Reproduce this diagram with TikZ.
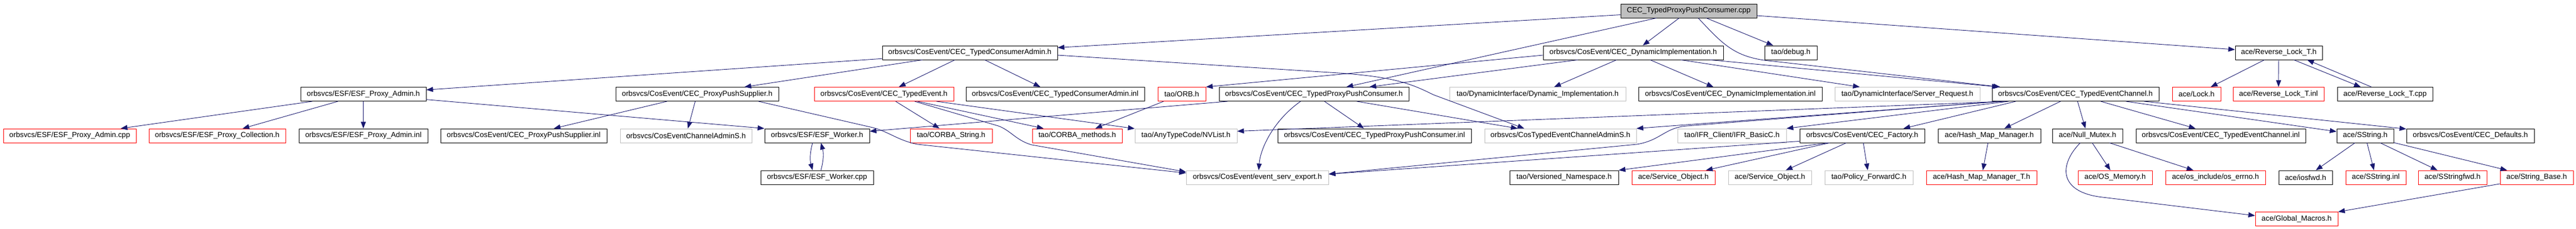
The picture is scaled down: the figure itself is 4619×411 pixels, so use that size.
\documentclass[tikz,border=0pt]{standalone}
\usepackage{fontspec}
\setmainfont{Liberation Sans}
\usepackage{tikz}
\usetikzlibrary{arrows.meta}
\usetikzlibrary{positioning}
\definecolor{doxblue}{HTML}{191970}
\definecolor{doxred}{HTML}{FF0000}
\definecolor{doxgray}{HTML}{BFBFBF}
\tikzstyle{header} = [draw, rectangle, line width=0.9pt, inner sep=0pt,
minimum height=25pt, font=\fontsize{13.3}{15}\selectfont]
\tikzstyle{line} = [draw, doxblue, line width=0.9pt, -{Triangle[length=12pt,width=9pt]}]

\begin{document}
\begin{tikzpicture}[x=1pt, y=1pt,
	undoc/.style={header, draw=doxred},
	extern/.style={header, draw=doxgray},
	mainfile/.style={header, fill=doxgray}]
    \useasboundingbox (0,0) rectangle (4619,-411);
    \node [mainfile, minimum width=244pt] (root) at (3028,-19.5) {CEC\_TypedProxyPushConsumer.cpp};
    %% Row 1
    \node [header, minimum width=314pt] (tca) at (1739,-94.5) {orbsvcs/CosEvent/CEC\_TypedConsumerAdmin.h};
    \node [header, minimum width=323pt] (dih) at (2928.5,-94.5) {orbsvcs/CosEvent/CEC\_DynamicImplementation.h};
    \node [header, minimum width=94pt] (debug) at (3211,-94.5) {tao/debug.h};
    \node [header, minimum width=156pt] (rlth) at (4086,-94.5) {ace/Reverse\_Lock\_T.h};
    %% Row 2
    \node [header, minimum width=225pt] (epah) at (651.5,-169) {orbsvcs/ESF/ESF\_Proxy\_Admin.h};
    \node [header, minimum width=292pt] (ppsh) at (1250,-169) {orbsvcs/CosEvent/CEC\_ProxyPushSupplier.h};
    \node [undoc, minimum width=250pt] (teh) at (1585,-169) {orbsvcs/CosEvent/CEC\_TypedEvent.h};
    \node [header, minimum width=320pt] (tcainl) at (1892,-169) {orbsvcs/CosEvent/CEC\_TypedConsumerAdmin.inl};
    \node [undoc, minimum width=86pt] (orbh) at (2119,-169) {tao/ORB.h};
    \node [header, minimum width=340pt] (tppch) at (2356,-169) {orbsvcs/CosEvent/CEC\_TypedProxyPushConsumer.h};
    \node [extern, minimum width=316pt] (dynimp) at (2757,-169) {tao/DynamicInterface/Dynamic\_Implementation.h};
    \node [header, minimum width=329pt] (diinl) at (3102.5,-169) {orbsvcs/CosEvent/CEC\_DynamicImplementation.inl};
    \node [extern, minimum width=260pt] (sreq) at (3420,-169) {tao/DynamicInterface/Server\_Request.h};
    \node [header, minimum width=299pt] (tech) at (3721.5,-169) {orbsvcs/CosEvent/CEC\_TypedEventChannel.h};
    \node [undoc, minimum width=87pt] (lockh) at (3938.5,-169) {ace/Lock.h};
    \node [undoc, minimum width=163pt] (rltinl) at (4085.5,-169) {ace/Reverse\_Lock\_T.inl};
    \node [header, minimum width=171pt] (rltcpp) at (4276.5,-169) {ace/Reverse\_Lock\_T.cpp};
    %% Row 3
    \node [undoc, minimum width=238pt] (epacpp) at (125,-243.5) {orbsvcs/ESF/ESF\_Proxy\_Admin.cpp};
    \node [undoc, minimum width=245pt] (epcoll) at (389.5,-243.5) {orbsvcs/ESF/ESF\_Proxy\_Collection.h};
    \node [header, minimum width=231pt] (epainl) at (651.5,-243.5) {orbsvcs/ESF/ESF\_Proxy\_Admin.inl};
    \node [header, minimum width=298pt] (ppsinl) at (939,-243.5) {orbsvcs/CosEvent/CEC\_ProxyPushSupplier.inl};
    \node [extern, minimum width=236pt] (cecas) at (1230,-243.5) {orbsvcs/CosEventChannelAdminS.h};
    \node [header, minimum width=188pt] (workh) at (1465,-243.5) {orbsvcs/ESF/ESF\_Worker.h};
    \node [undoc, minimum width=147pt] (cstr) at (1705.5,-243.5) {tao/CORBA\_String.h};
    \node [undoc, minimum width=161pt] (cmeth) at (1931.5,-243.5) {tao/CORBA\_methods.h};
    \node [extern, minimum width=183pt] (nvl) at (2126.5,-243.5) {tao/AnyTypeCode/NVList.h};
    \node [header, minimum width=347pt] (tppcinl) at (2464.5,-243.5) {orbsvcs/CosEvent/CEC\_TypedProxyPushConsumer.inl};
    \node [extern, minimum width=272pt] (ctecas) at (2798,-243.5) {orbsvcs/CosTypedEventChannelAdminS.h};
    \node [extern, minimum width=195pt] (ifr) at (3105.5,-243.5) {tao/IFR\_Client/IFR\_BasicC.h};
    \node [header, minimum width=224pt] (facth) at (3339,-243.5) {orbsvcs/CosEvent/CEC\_Factory.h};
    \node [header, minimum width=184pt] (hmmh) at (3567,-243.5) {ace/Hash\_Map\_Manager.h};
    \node [header, minimum width=126pt] (nullm) at (3743,-243.5) {ace/Null\_Mutex.h};
    \node [header, minimum width=304pt] (techinl) at (3982,-243.5) {orbsvcs/CosEvent/CEC\_TypedEventChannel.inl};
    \node [header, minimum width=102pt] (sstrh) at (4241,-243.5) {ace/SString.h};
    \node [header, minimum width=229pt] (defh) at (4429.5,-243.5) {orbsvcs/CosEvent/CEC\_Defaults.h};
    %% Row 4
    \node [header, minimum width=202pt] (workcpp) at (1465,-318.5) {orbsvcs/ESF/ESF\_Worker.cpp};
    \node [extern, minimum width=255pt] (evexp) at (2254.5,-318.5) {orbsvcs/CosEvent/event\_serv\_export.h};
    \node [header, minimum width=195pt] (vns) at (2804.5,-318.5) {tao/Versioned\_Namespace.h};
    \node [undoc, minimum width=149pt] (svcobj) at (3000.5,-318.5) {ace/Service\_Object.h};
    \node [extern, minimum width=149pt] (svcobjb) at (3173.5,-318.5) {ace/Service\_Object.h};
    \node [extern, minimum width=158pt] (polfwd) at (3351,-318.5) {tao/Policy\_ForwardC.h};
    \node [undoc, minimum width=198pt] (hmmt) at (3553,-318.5) {ace/Hash\_Map\_Manager\_T.h};
    \node [undoc, minimum width=133pt] (osmem) at (3792.5,-318.5) {ace/OS\_Memory.h};
    \node [undoc, minimum width=179pt] (oserr) at (3972.5,-318.5) {ace/os\_include/os\_errno.h};
    \node [header, minimum width=96pt] (iosfwd) at (4134,-318.5) {ace/iosfwd.h};
    \node [undoc, minimum width=108pt] (sstrinl) at (4260,-318.5) {ace/SString.inl};
    \node [undoc, minimum width=123pt] (sstrfwd) at (4397.5,-318.5) {ace/SStringfwd.h};
    \node [undoc, minimum width=131pt] (strbase) at (4548.5,-318.5) {ace/String\_Base.h};
    %% Row 5
    \node [undoc, minimum width=148pt] (gmac) at (4118,-393) {ace/Global\_Macros.h};
	%% Arrows from the file
    \path [line] (root) -- (tca);
    \path [line] (root) -- (tppch);
    \path [line] (root) -- (dih);
    \path [line] (root) -- (debug);
    \path [line] ([xshift=17pt]root.south) .. controls (3090,-80) and (3110,-104) .. (3180,-110) -- ([xshift=15pt]tech.north west);
    \path [line] (root) -- (rlth);
	%% CEC_TypedConsumerAdmin.h
    \path [line] (tca) -- (epah);
    \path [line] (tca) -- (ppsh);
    \path [line] (tca) -- (teh);
    \path [line] (tca) -- (tcainl);
    \path [line] ([yshift=-4.5pt]tca.east) -- (2400,-131) .. controls (2500,-138) and (2530,-150) .. (2570,-170) -- ([xshift=-65pt]ctecas.north);
	%% ESF_Proxy_Admin.h
    \path [line] (epah) -- (epacpp);
    \path [line] (epah) -- (epcoll);
    \path [line] (epah) -- (epainl);
    \path [line] (epah) -- (workh.north west);
	%% CEC_ProxyPushSupplier.h
    \path [line] (ppsh) -- (ppsinl);
    \path [line] (ppsh) -- (cecas);
    \path [line] ([xshift=110pt]ppsh.south) -- (1565,-229) .. controls (1595,-237) and (1610,-252) .. (1645,-259) -- ([yshift=8pt]evexp.west);
	%% CEC_TypedEvent.h
    \path [line] (teh) -- (cstr);
    \path [line] (teh) -- (cmeth);
    \path [line] (teh) -- (nvl);
    \path [line] ([xshift=55pt]teh.south) -- (1790,-226) .. controls (1812,-234) and (1822,-252) .. (1850,-260) -- ([yshift=10pt]evexp.west);
    \path [line] (orbh) -- (cmeth);
	%% CEC_TypedProxyPushConsumer.h
    \path [line] (tppch) -- (workh);
    \path [line] (tppch) -- (tppcinl);
    \path [line] (tppch) -- (ctecas);
    \path [line] ([xshift=-24pt]tppch.south) .. controls (2285,-215) and (2260,-265) .. ([xshift=2.5pt]evexp.north);
	%% ESF_Worker
    \path [line] ([xshift=-8pt]workh.south) to [bend right=15] ([xshift=-8pt]workcpp.north);
    \path [line] ([xshift=7pt]workcpp.north) to [bend right=15] ([xshift=7pt]workh.south);
	%% CEC_DynamicImplementation.h
    \path [line] ([yshift=-4.5pt]dih.west) -- (orbh.north east);
    \path [line] (dih) -- (tppch);
    \path [line] (dih) -- (dynimp);
    \path [line] (dih) -- (diinl);
    \path [line] (dih) -- (sreq);
    \path [line] (dih) -- (tech);
	%% Reverse_Lock_T.h
    \path [line] (rlth) -- (lockh);
    \path [line] (rlth) -- (rltinl);
    \path [line] ([xshift=27pt]rlth.south) -- ([xshift=-43.5pt]rltcpp.north);
    \path [line] ([xshift=-24.5pt]rltcpp.north) -- ([xshift=51pt]rlth.south);
	%% CEC_TypedEventChannel.h
    \path [line] ([xshift=25pt]tech.south west) -- ([yshift=8pt]nvl.east);
    \path [line] ([xshift=18pt]tech.south west) -- (ctecas.north east);
    \path [line] ([xshift=12pt]tech.south west) -- (3025,-226) .. controls (2985,-229) and (2978,-252) .. (2935,-259) -- ([yshift=6pt]evexp.east);
    \path [line] ([xshift=30pt]tech.south west) -- (ifr.north east);
    \path [line] ([xshift=43pt]tech.south west) -- ([xshift=74pt]facth.north);
    \path [line] (tech) -- (hmmh);
    \path [line] (tech) -- (nullm);
    \path [line] (tech) -- (techinl);
    \path [line] (tech) -- (sstrh);
    \path [line] (tech) -- (defh);
	%% CEC_Factory.h
    \path [line] ([yshift=3pt]facth.south west) -- ([yshift=6pt]evexp.east);
    \path [line] ([xshift=-62pt]facth.south) -- (vns.north east);
    \path [line] (facth) -- (svcobj);
    \path [line] (facth) -- (svcobjb);
    \path [line] (facth) -- (polfwd);
    \path [line] (hmmh) -- (hmmt);
	%% ace headers
    \path [line] (nullm) -- (osmem);
    \path [line] (nullm) -- (oserr);
    \path [line] ([xshift=-13pt]nullm.south) .. controls (3692,-295) and (3690,-345) .. (3770,-354) -- ([yshift=6pt]gmac.west);
    \path [line] (sstrh) -- (iosfwd);
    \path [line] (sstrh) -- (sstrinl);
    \path [line] (sstrh) -- (sstrfwd);
    \path [line] (sstrh) -- (strbase);
    \path [line] (strbase) -- (gmac);
\end{tikzpicture}
\end{document}
